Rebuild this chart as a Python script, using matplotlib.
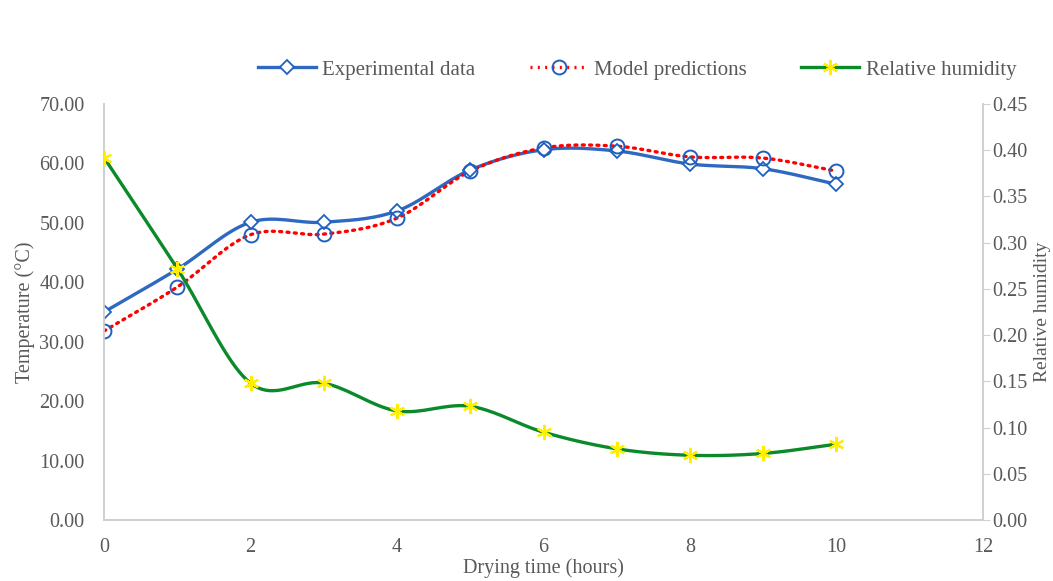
import numpy as np
import matplotlib.pyplot as plt

# Data
hours = [0, 1, 2, 3, 4, 5, 6, 7, 8, 9, 10]
experimental = [35.0, 42.2, 50.1, 50.1, 52.0, 58.9, 62.3, 62.1, 59.9, 59.1, 56.5]
model = [31.8, 39.2, 48.0, 48.1, 50.8, 58.7, 62.6, 62.9, 61.1, 60.9, 58.7]
humidity = [0.392, 0.272, 0.148, 0.148, 0.118, 0.123, 0.095, 0.077, 0.070, 0.072, 0.082]

plt.rcParams['font.family'] = ['Liberation Serif', 'DejaVu Serif']
grey = '#595959'
spine_col = '#d0d0d0'


def smooth(x, y, n=20):
    # Catmull-Rom curve through the points, similar to Excel's smoothed line
    x = np.asarray(x, float)
    y = np.asarray(y, float)
    px = np.concatenate([[2 * x[0] - x[1]], x, [2 * x[-1] - x[-2]]])
    py = np.concatenate([[2 * y[0] - y[1]], y, [2 * y[-1] - y[-2]]])
    xs, ys = [], []
    t = np.linspace(0, 1, n)
    for i in range(1, len(px) - 2):
        for p, out in ((px, xs), (py, ys)):
            p0, p1, p2, p3 = p[i - 1], p[i], p[i + 1], p[i + 2]
            out.extend(0.5 * (2 * p1 + (-p0 + p2) * t
                              + (2 * p0 - 5 * p1 + 4 * p2 - p3) * t ** 2
                              + (-p0 + 3 * p1 - 3 * p2 + p3) * t ** 3))
    return np.array(xs), np.array(ys)


fig = plt.figure(figsize=(10.53, 5.81), dpi=100)
ax = fig.add_axes([0.0988, 0.105, 0.8347, 0.716])
ax2 = ax.twinx()

blue = '#2e68c0'
mblue = '#1f5fbf'

sx, sy = smooth(hours, experimental)
ax.plot(sx, sy, color=blue, lw=2.4, zorder=3)
ax.plot(hours, experimental, ls='none', marker='D', ms=7, mfc='white',
        mec=mblue, mew=1.3, zorder=4)

sx, sy = smooth(hours, model)
ax.plot(sx, sy, color='#ff0000', lw=2.4, ls=(0, (0.6, 1.6)), dash_capstyle='round', zorder=3)
ax.plot(hours, model, ls='none', marker='o', ms=10, mfc='none',
        mec=mblue, mew=1.4, zorder=4)

sx, sy = smooth(hours, humidity)
ax2.plot(sx, sy, color='#0a8a2a', lw=2.4, zorder=3)
ax2.plot(hours, humidity, ls='none', marker=(6, 2, 0), ms=11, mec='#ffee00',
         mew=1.6, zorder=4)

ax.set_xlim(0, 12)
ax.set_ylim(0, 70)
ax2.set_ylim(0, 0.45)
ax.set_xticks(range(0, 13, 2))
ax.set_yticks(range(0, 71, 10))
ax.set_yticklabels(['%.2f' % v for v in range(0, 71, 10)])
ax2.set_yticks(np.arange(0, 0.451, 0.05))
ax2.set_yticklabels(['%.2f' % v for v in np.arange(0, 0.451, 0.05)])

for a in (ax, ax2):
    for s in a.spines.values():
        s.set_color(spine_col)
        s.set_linewidth(1.3)
    a.spines['top'].set_visible(False)
    a.tick_params(colors=grey, labelsize=14.5, length=0, pad=14)
ax.tick_params(axis='x', pad=13)
ax.tick_params(axis='y', pad=14)
ax2.tick_params(axis='y', length=5, color=spine_col, pad=2)

ax.set_xlabel('Drying time (hours)', fontsize=14.5, color=grey, labelpad=1)
ax.set_ylabel('Temperature (°C)', fontsize=14.5, color=grey, labelpad=3)
ax2.set_ylabel('Relative humidity', fontsize=14, color=grey, labelpad=4)

h1 = plt.Line2D([], [], color=blue, lw=2.4, marker='D', ms=7, mfc='white', mec=mblue, mew=1.3)
h2 = plt.Line2D([], [], color='#ff0000', lw=2.4, ls=(0, (0.6, 1.6)), marker='o', ms=10,
                mfc='none', mec=mblue, mew=1.4)
h3 = plt.Line2D([], [], color='#0a8a2a', lw=2.4, marker=(6, 2, 0), ms=11, mec='#ffee00', mew=1.6)
leg = fig.legend([h1, h2, h3], ['Experimental data', 'Model predictions', 'Relative humidity'],
                 loc='center', bbox_to_anchor=(0.605, 0.88), ncol=3, frameon=False,
                 fontsize=15, handlelength=2.8, columnspacing=2.6, handletextpad=0.3)
for t in leg.get_texts():
    t.set_color(grey)

fig.savefig('out.png', dpi=100)
